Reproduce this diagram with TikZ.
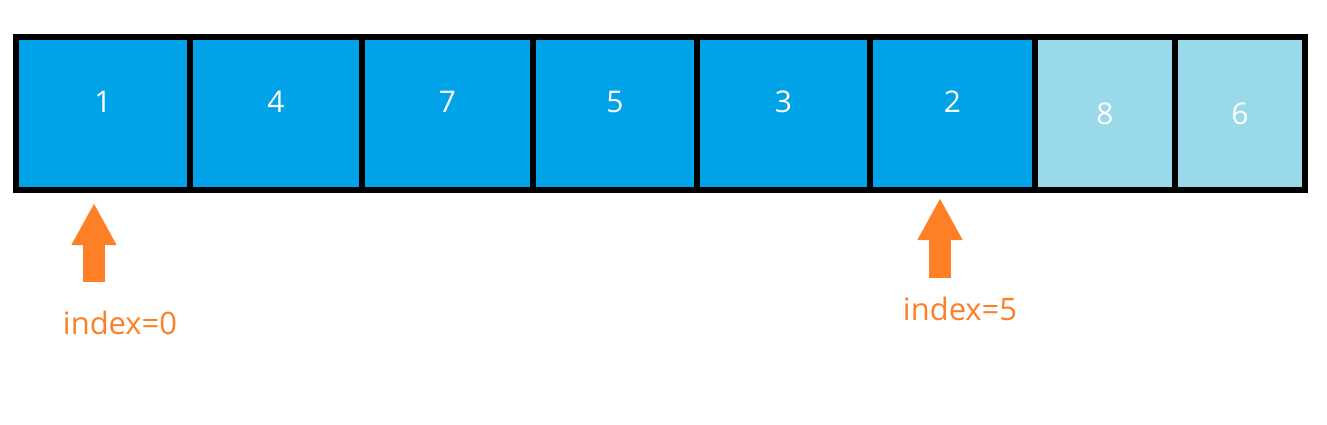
\documentclass[tikz,border=0pt]{standalone}
\usepackage{fontspec}
\setmainfont{Open Sans}
\usetikzlibrary{arrows.meta, positioning}
\definecolor{cellblue}{RGB}{0,162,232}
\definecolor{cellpale}{RGB}{153,217,234}
\definecolor{markorange}{RGB}{255,127,39}

\begin{document}
\begin{tikzpicture}[
    x=0.02cm, y=0.02cm,
    cell/.style={draw, line width=3.2pt, fill=cellblue, text=white,
        minimum height=3.06cm, outer sep=0pt, inner sep=0pt,
        font=\fontsize{17}{20}\selectfont},
    raised/.style={text depth=0.48cm},
    pale/.style={fill=cellpale},
    pointer/.style={draw=markorange, line width=0.44cm,
        -{Triangle[width=0.84cm, length=0.84cm]}},
    idx/.style={text=markorange, font=\fontsize{17.6}{21}\selectfont}
    ]
    \useasboundingbox (0,0) rectangle (1327,-424);

    % Cells
    \node (c1) [cell, raised, minimum width=3.48cm] at (103,-113.5) {1};
    \node (c2) [cell, raised, minimum width=3.44cm, right=0pt of c1] {4};
    \node (c3) [cell, raised, minimum width=3.42cm, right=0pt of c2] {7};
    \node (c4) [cell, raised, minimum width=3.28cm, right=0pt of c3] {5};
    \node (c5) [cell, raised, minimum width=3.46cm, right=0pt of c4] {3};
    \node (c6) [cell, raised, minimum width=3.30cm, right=0pt of c5] {2};
    \node (c7) [cell, pale, minimum width=2.80cm, right=0pt of c6] {8};
    \node (c8) [cell, pale, minimum width=2.60cm, right=0pt of c7] {6};

    % Pointers
    \coordinate (tail0) at (94,-282);
    \coordinate (tip0) at (94,-203);
    \coordinate (tail5) at (940,-278);
    \coordinate (tip5) at (940,-198);
    \draw[pointer] (tail0) -- (tip0);
    \draw[pointer] (tail5) -- (tip5);

    % Labels
    \node (idx0) [idx] at (120,-323) {index=0};
    \node (idx5) [idx] at (960,-309) {index=5};

  \end{tikzpicture}
\end{document}
